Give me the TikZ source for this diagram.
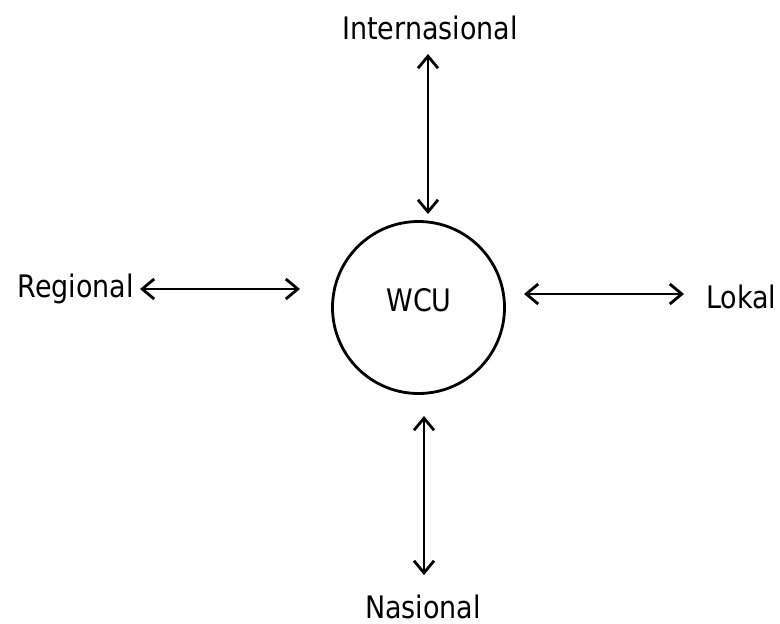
\documentclass[tikz,border=0pt]{standalone}
\usepackage{fontspec}
\setmainfont[FakeStretch=0.87]{DejaVu Sans}
\usetikzlibrary{arrows.meta}
\begin{document}
\begin{tikzpicture}[x=1pt,y=-1pt,
  lbl/.style={font=\fontsize{31}{34}\selectfont, inner sep=0pt, anchor=base},
  link/.style={line width=2.8pt, {Straight Barb[length=12pt,width=20pt,line width=2.8pt]}-{Straight Barb[length=12pt,width=20pt,line width=2.8pt]}}]
\useasboundingbox (0,0) rectangle (780,624);
\node[draw, circle, line width=2.8pt, minimum size=172pt, inner sep=0pt] (wcu) at (418.5,307.5) {};
\node[lbl] (wcut) at (419,311) {WCU};
\node[lbl] (int) at (430,39) {Internasional};
\node[lbl, anchor=base east] (reg) at (134,297) {Regional};
\node[lbl, anchor=base west] (lok) at (706,308) {Lokal};
\node[lbl] (nas) at (423,618) {Nasional};
\coordinate (t1) at (428,54);  \coordinate (t2) at (428,214);
\coordinate (l1) at (140,289); \coordinate (l2) at (300,289);
\coordinate (r1) at (524,294); \coordinate (r2) at (684,294);
\coordinate (b1) at (424,416); \coordinate (b2) at (424,575);
\draw[link] (t1) -- (t2);
\draw[link] (l1) -- (l2);
\draw[link] (r1) -- (r2);
\draw[link] (b1) -- (b2);
\end{tikzpicture}
\end{document}
